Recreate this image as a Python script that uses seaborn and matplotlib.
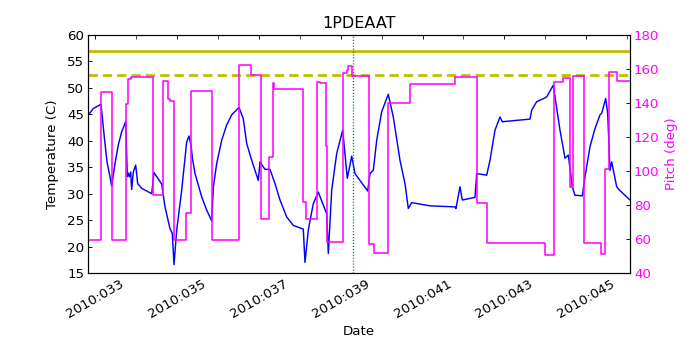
import matplotlib
matplotlib.use("Agg")
import matplotlib.pyplot as plt
from matplotlib.ticker import FixedLocator, MultipleLocator, FuncFormatter
import seaborn as sns

# Temperature trace: 2010 day-of-year vs deg C
temp_day = [32.836, 32.958, 33.147, 33.227, 33.293, 33.366, 33.408, 33.489, 33.569,
            33.652, 33.750, 33.789, 33.813, 33.838, 33.872, 33.896, 33.936, 33.994,
            34.043, 34.141, 34.385, 34.441, 34.629, 34.710, 34.832, 34.888, 34.930,
            34.996, 35.118, 35.240, 35.296, 35.345, 35.380, 35.443, 35.525, 35.606,
            35.728, 35.851, 35.892, 35.973, 36.095, 36.217, 36.339, 36.517, 36.622,
            36.705, 36.828, 36.989, 37.030, 37.152, 37.275, 37.397, 37.519, 37.682,
            37.844, 38.088, 38.129, 38.210, 38.332, 38.454, 38.659, 38.699, 38.782,
            38.904, 39.050, 39.163, 39.270, 39.351, 39.473, 39.661, 39.717, 39.798,
            39.881, 40.003, 40.164, 40.286, 40.450, 40.572, 40.653, 40.736, 41.183,
            41.793, 41.818, 41.915, 41.972, 42.282, 42.323, 42.568, 42.648, 42.770,
            42.893, 42.949, 43.625, 43.667, 43.789, 43.992, 44.040, 44.194, 44.358,
            44.480, 44.561, 44.659, 44.724, 44.903, 44.969, 45.091, 45.213, 45.335,
            45.377, 45.474, 45.523, 45.579, 45.621, 45.743, 45.806, 46.068]
temp_val = [44.85, 46.1, 46.9, 40.75, 36.0, 33.2, 31.4, 35.7, 39.2,
            41.7, 43.6, 33.2, 33.9, 33.2, 34.1, 30.8, 34.1, 35.4,
            31.9, 31.0, 30.0, 34.0, 31.8, 27.5, 23.4, 22.5, 16.6,
            23.1, 30.7, 39.8, 40.9, 39.2, 36.7, 33.8, 31.6, 29.4,
            26.9, 24.85, 31.3, 35.7, 40.1, 43.0, 44.9, 46.3, 44.2,
            39.5, 36.3, 32.5, 36.0, 34.6, 34.6, 31.9, 28.8, 25.6,
            24.0, 23.3, 17.0, 23.1, 28.1, 30.3, 26.2, 18.7, 30.7,
            37.6, 42.0, 32.9, 37.1, 33.8, 32.5, 30.5, 33.8, 34.4,
            40.1, 45.5, 48.8, 44.5, 36.3, 31.9, 27.2, 28.3, 27.7,
            27.5, 27.2, 31.3, 28.8, 29.3, 33.8, 33.5, 36.3, 42.0,
            44.5, 43.6, 44.1, 45.8, 47.4, 48.1, 48.4, 50.5, 42.0,
            36.7, 37.3, 31.3, 29.7, 29.6, 33.2, 38.9, 42.3, 44.9,
            45.2, 48.0, 45.2, 34.4, 36.0, 31.3, 30.7, 28.8]

# Pitch: day each attitude starts, pitch held (deg)
pitch_day = [32.829, 33.147, 33.408, 33.765, 33.813, 33.879, 34.424, 34.649, 34.790,
             34.832, 34.930, 35.211, 35.345, 35.851, 36.525, 36.803, 37.047, 37.257,
             37.340, 37.372, 38.088, 38.146, 38.430, 38.496, 38.642, 38.679, 39.050,
             39.148, 39.172, 39.270, 39.700, 39.815, 40.164, 40.694, 41.793, 42.338,
             42.568, 43.992, 44.211, 44.439, 44.610, 44.676, 44.944, 45.352, 45.469,
             45.567, 45.762, 46.068]
pitch_val = [59.2, 146.2, 59.2, 139.3, 154.2, 155.3, 85.6, 152.7, 142.3,
             141.3, 59.2, 75.5, 147.2, 59.2, 162.3, 156.4, 71.5, 108.0,
             151.5, 148.0, 81.8, 71.5, 152.5, 151.5, 115.0, 58.0, 157.4,
             159.4, 161.9, 155.9, 57.3, 51.8, 140.1, 151.1, 155.1, 80.9,
             57.7, 50.4, 152.5, 154.9, 90.7, 155.6, 57.5, 51.0, 101.4,
             158.2, 153.0, 153.0]

planning_limit = 57.0
caution_limit = 52.4
now_day = 39.29
label_days = [33, 35, 37, 39, 41, 43, 45]

sns.set_style("white")
plt.rcParams["font.family"] = ["DejaVu Sans"]
plt.rcParams["font.size"] = 12
plt.rcParams["text.color"] = "k"
plt.rcParams["axes.labelcolor"] = "k"
plt.rcParams["lines.scale_dashes"] = False

fig = plt.figure(figsize=(8.75, 4.375), dpi=80)
ax = fig.add_axes([0.1257, 0.22, 0.7743, 0.68])

sns.lineplot(x=temp_day, y=temp_val, ax=ax, color="b", lw=1.3,
             estimator=None, sort=False)
ax.axhline(planning_limit, color="y", lw=2.5)
ax.axhline(caution_limit, color="y", lw=2.5, linestyle=(0, (8.4, 4.5)))
ax.axvline(now_day, color="g", lw=1.2, linestyle=":")

ax.set_xlim(32.829, 46.068)
ax.set_ylim(15, 60)
ax.xaxis.set_major_locator(FixedLocator(label_days))
ax.xaxis.set_minor_locator(MultipleLocator(1))
ax.xaxis.set_major_formatter(FuncFormatter(lambda d, pos: "2010:%03d" % round(d)))
ax.yaxis.set_major_locator(MultipleLocator(5))
ax.tick_params(which="both", direction="in", top=True, colors="k", labelsize=12)
ax.tick_params(which="major", length=4)
ax.tick_params(which="minor", length=4)
for lbl in ax.get_xticklabels():
    lbl.set_rotation(30)
    lbl.set_ha("center")
ax.set_xlabel("Date", fontsize=12)
ax.set_ylabel("Temperature (C)", fontsize=12, labelpad=7)
ax.set_title("1PDEAAT", fontsize=14.4)

ax2 = ax.twinx()
sns.lineplot(x=pitch_day, y=pitch_val, ax=ax2, color="#FF00FF", lw=1.4,
             estimator=None, sort=False, drawstyle="steps-post")
ax2.set_ylim(40, 180)
ax2.yaxis.set_major_locator(MultipleLocator(20))
ax2.tick_params(axis="y", direction="in", length=4, colors="#FF00FF",
                labelsize=12)
ax2.tick_params(axis="y", color="k")
ax2.set_ylabel("Pitch (deg)", color="#FF00FF", fontsize=12, labelpad=5)
ax2.set_xlim(32.829, 46.068)

for a in (ax, ax2):
    for sp in a.spines.values():
        sp.set_color("k")
        sp.set_linewidth(1.0)

fig.savefig("out.png", dpi=80)
